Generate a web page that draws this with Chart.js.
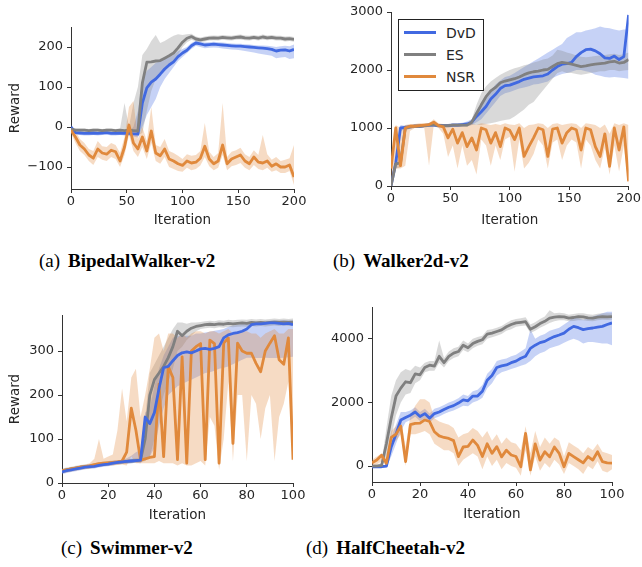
<!DOCTYPE html>
<html>
<head>
<meta charset="utf-8">
<script src="https://cdn.jsdelivr.net/npm/chart.js@4.4.1/dist/chart.umd.min.js"></script>
<style>
  body { margin: 0; background: #fff; }
  #fig { position: relative; width: 642px; height: 567px; overflow: hidden; background: #fff; }
  .panel { position: absolute; }
  .cap { position: absolute; font-family: 'Liberation Serif', 'Times New Roman', serif; font-size: 19px; line-height: 19px; color: #000; white-space: nowrap; }
  .cap b { margin-left: 8px; }
  .legend { position: absolute; border: 1px solid #222; background: #fff; box-sizing: border-box; font-family: 'DejaVu Sans', sans-serif; font-size: 14px; color: #262626; }
  .legend .row { position: absolute; left: 0; height: 18px; }
  .legend .sw { position: absolute; left: 5px; top: 7px; width: 32px; height: 3px; }
  .legend .lb { position: absolute; left: 47px; top: 0; line-height: 18px; }
</style>
</head>
<body>
<div id="fig">
  <canvas id="cA" class="panel" width="320" height="240" style="left:0;top:0"></canvas>
  <canvas id="cB" class="panel" width="322" height="240" style="left:320px;top:0"></canvas>
  <canvas id="cC" class="panel" width="320" height="250" style="left:0;top:280px"></canvas>
  <canvas id="cD" class="panel" width="322" height="250" style="left:320px;top:280px"></canvas>
  <div id="legendB" class="legend" style="left:398px;top:19px;width:86px;height:72px"></div>
  <div class="cap" style="left:39px;top:251px">(a)<b>BipedalWalker-v2</b></div>
  <div class="cap" style="left:333px;top:251px">(b)<b>Walker2d-v2</b></div>
  <div class="cap" style="left:61px;top:538px">(c)<b>Swimmer-v2</b></div>
  <div class="cap" style="left:306px;top:538px">(d)<b>HalfCheetah-v2</b></div>
</div>
<script>
/* ---------- data ---------- */
const SERIES = ['DvD', 'ES', 'NSR'];
const COLORS = ['#4169e1', '#808080', '#e0893c'];

const ITER_AB = [0,4,8,12,16,20,24,28,32,36,40,44,48,52,56,60,64,68,72,76,80,84,88,92,96,100,
  104,108,112,116,120,124,128,132,136,140,144,148,152,156,160,164,168,172,176,180,184,188,192,196,200];
const ITER_CD = [0,2,4,6,8,10,12,14,16,18,20,22,24,26,28,30,32,34,36,38,40,42,44,46,48,50,
  52,54,56,58,60,62,64,66,68,70,72,74,76,78,80,82,84,86,88,90,92,94,96,98,100];

// (a) BipedalWalker
const A_DVD    = [0,-14,-15,-16,-16,-15,-16,-15,-14,-16,-16,-15,-16,-16,-17,-18,60,98,112,120,132,145,155,163,176,185,192,203,210,208,205,206,207,206,205,204,203,202,202,201,200,199,198,197,196,194,190,192,193,190,194];
const A_DVD_LO = [-6,-19,-20,-21,-21,-20,-21,-20,-19,-21,-21,-20,-21,-22,-24,-26,0,30,50,70,100,120,135,150,165,175,185,195,203,200,197,198,199,198,196,195,194,193,192,190,188,186,184,182,180,178,172,174,175,170,172];
const A_DVD_HI = [6,-9,-10,-11,-11,-10,-11,-10,-9,-11,-11,-10,-11,-10,0,40,120,140,150,160,165,170,175,180,190,195,200,210,216,214,211,212,213,212,211,210,209,208,208,207,206,205,204,204,203,202,200,202,203,202,206];
const A_ES     = [-5,-8,-8,-8,-9,-8,-8,-9,-8,-8,-9,-8,-9,-8,-9,-10,110,162,163,165,166,172,178,185,198,212,222,226,220,218,220,222,223,222,224,223,222,224,225,223,222,224,222,225,223,224,222,222,220,221,219];
const A_ES_LO  = [-9,-12,-12,-12,-13,-12,-12,-13,-12,-12,-13,-12,-13,-12,-15,-20,-15,40,90,120,130,140,150,165,180,200,212,218,214,212,214,216,217,216,218,217,216,218,219,217,216,218,216,219,217,218,216,216,214,215,213];
const A_ES_HI  = [-1,-4,-4,-4,-5,-4,-4,-5,-4,-4,-5,-4,60,0,60,100,180,195,215,230,210,215,222,228,232,230,232,233,226,224,226,228,229,228,230,229,228,230,231,229,228,230,228,231,229,230,228,228,226,227,225];
const A_NSR    = [-8,-25,-45,-55,-70,-78,-55,-65,-68,-58,-62,-85,-50,5,-40,-55,-25,-60,-10,-65,-72,-55,-80,-85,-92,-96,-85,-90,-88,-78,-48,-80,-92,-85,-45,-92,-80,-75,-70,-85,-92,-75,-88,-90,-85,-98,-92,-100,-100,-95,-125];
const A_NSR_LO = [-15,-40,-60,-70,-85,-95,-75,-82,-85,-75,-80,-100,-70,-20,-60,-75,-50,-80,-40,-85,-92,-75,-100,-105,-110,-112,-102,-108,-105,-96,-75,-98,-108,-102,-70,-108,-98,-95,-90,-102,-108,-95,-105,-108,-102,-112,-108,-115,-115,-110,-145];
const A_NSR_HI = [0,-10,-30,-40,-55,-60,-35,-48,-50,-40,-45,-65,-25,50,65,-30,0,-35,50,-45,-50,-30,-60,-65,-72,-80,-68,-72,-70,-60,10,-62,-75,-65,60,-75,-62,-58,-52,-68,-75,-58,-70,-20,-68,-82,-75,-85,-82,-78,-45];

// (b) Walker2d
const B_DVD    = [0,400,1000,1010,1020,1030,1030,1040,1050,1050,1040,1040,1040,1050,1050,1060,1070,1100,1200,1280,1370,1500,1580,1680,1730,1740,1770,1800,1840,1860,1880,1890,1900,1930,2000,2060,2100,2110,2130,2230,2300,2350,2360,2330,2280,2210,2200,2240,2180,2230,2950];
const B_DVD_LO = [0,300,950,980,990,1000,1000,1010,1020,1020,1010,1010,1010,1020,1020,1030,1040,1050,1100,1150,1250,1350,1450,1550,1600,1620,1650,1680,1700,1720,1750,1760,1780,1800,1860,1900,1930,1950,1970,2000,2000,1980,1960,1920,1900,1880,1870,1880,1870,1860,1850];
const B_DVD_HI = [0,500,1050,1040,1050,1060,1060,1070,1080,1080,1070,1070,1070,1080,1080,1090,1110,1150,1300,1420,1500,1650,1750,1820,1880,1900,1950,2000,2050,2100,2150,2200,2250,2300,2350,2400,2450,2550,2600,2650,2650,2680,2700,2720,2750,2730,2720,2700,2680,2700,2700];
const B_ES     = [0,380,400,1000,1020,1030,1030,1040,1050,1060,1040,1040,1040,1050,1050,1050,1050,1100,1250,1400,1540,1640,1700,1780,1810,1830,1850,1880,1920,1950,1970,1980,2000,2010,2060,2110,2130,2120,2100,2080,2060,2070,2090,2100,2110,2120,2140,2150,2120,2130,2180];
const B_ES_LO  = [0,300,320,950,990,1000,1000,1010,1020,1030,1010,1010,1010,1020,1020,1020,1020,1050,1050,1050,1070,1080,1100,1120,1140,1150,1200,1260,1320,1400,1450,1550,1650,1750,1850,1950,1980,1950,1950,1930,1920,1930,1950,1960,1980,1980,2000,2000,1980,1990,2000];
const B_ES_HI  = [0,450,500,1050,1050,1060,1060,1070,1080,1090,1070,1070,1070,1080,1080,1080,1080,1150,1400,1600,1720,1800,1860,1920,1960,2000,2030,2050,2080,2100,2130,2150,2180,2200,2250,2350,2330,2300,2280,2250,2230,2220,2230,2240,2250,2260,2270,2280,2260,2270,2300];
const B_NSR    = [300,1000,350,1000,1030,1030,1040,1050,1060,1100,1040,1020,830,980,740,920,680,830,620,1000,970,740,920,680,1000,960,800,1000,510,680,830,1000,970,510,980,1000,740,920,1000,970,620,1000,970,680,510,900,340,1000,620,1020,80];
const B_NSR_LO = [100,300,300,350,950,1000,1000,1000,350,1050,1000,900,500,700,300,700,350,450,200,800,700,350,700,450,800,850,250,800,300,400,550,800,700,300,750,800,450,700,800,750,300,800,700,450,300,650,200,700,250,700,0];
const B_NSR_HI = [400,1050,1000,1050,1070,1070,1080,1080,1080,1150,1080,1070,1050,1070,1050,1060,1050,1070,1050,1080,1070,1050,1070,1050,1080,1060,1050,1080,1000,1050,1060,1080,1070,1000,1070,1080,1050,1070,1080,1070,1000,1080,1070,1050,1000,1060,900,1080,1050,1080,1050];

// (c) Swimmer
const C_DVD    = [25,28,30,32,34,36,37,38,40,42,43,45,47,48,49,50,51,52,150,135,160,215,262,265,278,290,296,298,296,300,305,306,304,306,310,330,337,340,342,345,350,360,362,362,363,364,364,363,362,363,360];
const C_DVD_LO = [20,23,25,27,29,31,32,33,35,37,38,40,42,43,44,45,46,45,55,60,80,130,170,200,210,220,225,230,235,240,245,250,252,255,260,262,265,270,275,280,285,285,284,284,285,284,284,284,285,286,287];
const C_DVD_HI = [30,33,35,37,39,41,42,43,45,47,48,50,52,53,56,62,70,75,160,170,220,260,290,310,330,335,335,335,335,340,340,342,344,346,348,350,355,358,360,362,365,367,368,368,369,369,370,370,370,370,370];
const C_ES     = [28,30,32,34,36,37,38,40,42,44,45,46,47,48,49,50,51,52,100,200,235,250,265,285,310,345,335,345,352,356,358,360,361,360,362,361,363,362,363,364,363,365,364,365,364,365,366,365,366,365,366];
const C_ES_LO  = [23,25,27,29,31,32,33,35,37,39,40,41,42,43,44,45,46,47,50,60,100,160,200,230,260,300,310,325,335,345,350,352,353,352,354,353,355,354,355,356,355,357,356,357,356,357,358,357,358,357,358];
const C_ES_HI  = [33,35,37,39,41,42,43,45,47,49,50,51,52,53,54,55,56,57,150,250,270,290,310,330,350,365,365,362,365,365,366,368,369,368,370,369,371,370,371,372,371,373,372,373,372,373,374,373,374,373,374];
const C_NSR    = [28,30,32,34,36,37,39,42,44,45,46,47,48,50,70,170,120,52,55,58,60,225,60,265,240,53,287,45,300,310,317,53,325,317,45,318,330,90,318,300,295,295,272,253,300,318,335,280,270,330,53];
const C_NSR_LO = [22,24,26,28,30,31,33,35,37,38,39,40,41,42,40,60,45,45,45,45,45,50,45,45,45,40,45,40,40,45,50,40,150,130,30,100,230,50,200,200,50,200,180,100,170,200,50,150,180,230,50];
const C_NSR_HI = [30,33,36,38,40,42,45,55,100,55,60,65,120,215,140,240,260,150,200,260,330,340,300,340,340,330,340,330,340,345,345,340,345,345,340,345,350,340,345,345,345,340,340,330,340,345,350,340,340,350,350];

// (d) HalfCheetah
const D_DVD    = [-20,-20,-20,0,600,1000,1450,1530,1600,1700,1560,1650,1500,1650,1700,1780,1850,1900,1980,2080,2050,2200,2200,2350,2700,2850,3100,3150,3180,3250,3300,3390,3450,3700,3800,3880,3920,4000,4070,4120,4180,4300,4390,4350,4290,4320,4340,4370,4390,4450,4500];
const D_DVD_LO = [-60,-60,-60,-40,300,700,1100,1380,1450,1550,1420,1500,1370,1500,1560,1640,1700,1750,1820,1900,1880,2000,2050,2150,2450,2600,2850,2950,3000,3050,3100,3150,3200,3300,3450,3550,3600,3700,3750,3800,3880,3950,4000,3950,3850,3900,3900,3880,3850,3850,3800];
const D_DVD_HI = [20,20,20,40,900,1300,1700,1700,1750,1850,1700,1800,1650,1800,1850,1920,2000,2050,2130,2250,2200,2350,2400,2550,2900,3050,3300,3350,3380,3450,3500,3600,3700,4300,4000,4100,4150,4250,4300,4350,4450,4550,4700,4650,4600,4650,4700,4750,4800,4850,4850];
const D_ES     = [0,0,20,700,1500,2200,2450,2650,2620,2900,2870,3100,3170,3140,3450,3250,3450,3550,3600,3800,3720,3850,3920,3970,4150,4180,4230,4280,4380,4450,4500,4520,4540,4300,4380,4480,4550,4650,4680,4700,4690,4650,4670,4700,4690,4660,4650,4680,4700,4690,4700];
const D_ES_LO  = [-50,-50,-30,300,900,1600,2000,2250,2300,2600,2700,2950,3000,3000,3250,3100,3300,3400,3450,3650,3580,3700,3780,3830,4000,4050,4100,4150,4250,4300,4380,4400,4420,4180,4250,4350,4420,4500,4550,4580,4580,4550,4560,4580,4580,4560,4550,4580,4600,4590,4600];
const D_ES_HI  = [50,50,100,1200,2200,2700,2950,3050,3000,3150,3100,3250,3300,3300,3950,3400,3600,3700,3750,3950,3850,4000,4060,4100,4280,4300,4350,4400,4500,4580,4620,4650,4680,4450,4520,4620,4700,4900,4800,4820,4800,4760,4780,4800,4800,4770,4760,4790,4800,4800,4800];
const D_NSR    = [100,190,340,90,900,1000,1250,140,1300,1340,1350,1450,1400,1080,950,900,870,800,300,600,620,820,650,300,700,400,610,290,500,350,300,-20,1030,-120,700,190,450,290,600,400,-20,400,300,200,100,300,190,450,140,100,90];
const D_NSR_LO = [0,50,150,0,700,800,1000,0,1000,1000,1050,1100,1000,700,600,500,500,400,0,200,300,400,300,-100,300,0,200,-100,100,0,-50,-300,500,-300,300,-150,100,-50,200,50,-250,100,0,-100,-250,0,-100,150,-150,-200,-100];
const D_NSR_HI = [200,300,400,200,1100,1250,1500,600,1600,1900,2100,2100,2000,1500,1400,1350,1300,1200,900,1000,1050,1200,1100,900,1100,800,1000,700,900,750,700,500,1250,400,1100,600,900,700,900,800,300,750,650,550,400,600,500,700,450,400,350];

// tick labels
const X_TICKS_AB = [0, 50, 100, 150, 200];
const X_TICKS_CD = [0, 20, 40, 60, 80, 100];
const Y_TICKS_A = [-100, 0, 100, 200];
const Y_TICKS_B = [0, 1000, 2000, 3000];
const Y_TICKS_C = [0, 100, 200, 300];
const Y_TICKS_D = [0, 2000, 4000];

/* ---------- helpers ---------- */
function hexToRgba(hex, alpha) {
  const r = parseInt(hex.slice(1, 3), 16);
  const g = parseInt(hex.slice(3, 5), 16);
  const b = parseInt(hex.slice(5, 7), 16);
  return `rgba(${r}, ${g}, ${b}, ${alpha})`;
}

const pts = (xs, ys) => xs.map((x, i) => ({ x: x, y: ys[i] }));
const fmt = v => (v < 0 ? '\u2212' + Math.abs(v) : String(v));

const TXT = '#262626';
const AXIS = '#333333';

function makePanel(canvasId, p) {
  const datasets = [];
  p.series.forEach((s, i) => {
    const bandOrder = 30 - i;
    datasets.push({
      data: pts(p.iter, s.lo), borderWidth: 0, pointRadius: 0, fill: false, order: bandOrder
    });
    datasets.push({
      data: pts(p.iter, s.hi), borderWidth: 0, pointRadius: 0, fill: '-1',
      backgroundColor: hexToRgba(COLORS[i], 0.3), order: bandOrder
    });
  });
  p.series.forEach((s, i) => {
    datasets.push({
      label: SERIES[i], data: pts(p.iter, s.mean), borderColor: COLORS[i],
      borderWidth: 2.8, pointRadius: 0, fill: false, tension: 0,
      borderJoinStyle: 'round', order: 10 - p.z[i]
    });
  });

  const g = p.geo;
  return new Chart(document.getElementById(canvasId), {
    type: 'line',
    data: { datasets },
    options: {
      responsive: false,
      animation: false,
      devicePixelRatio: 1,
      parsing: false,
      layout: { padding: { left: 0, top: g.top, right: g.right, bottom: g.bottom } },
      plugins: { legend: { display: false }, tooltip: { enabled: false } },
      scales: {
        x: {
          type: 'linear', min: p.xMin, max: p.xMax,
          afterBuildTicks: sc => { sc.ticks = p.xTicks.map(v => ({ value: v })); },
          afterFit: sc => { sc.height = g.xh; },
          grid: { display: true, drawOnChartArea: false, drawTicks: true, tickLength: 4, color: AXIS },
          border: { display: true, color: AXIS, width: 1 },
          ticks: { color: TXT, padding: 1, maxRotation: 0, font: { family: 'DejaVu Sans', size: 13 }, callback: fmt },
          title: { display: true, text: 'Iteration', color: TXT, padding: { top: 0, bottom: 0 },
                   font: { family: 'DejaVu Sans', size: 13.5 } }
        },
        y: {
          type: 'linear', min: p.yMin, max: p.yMax,
          afterBuildTicks: sc => { sc.ticks = p.yTicks.map(v => ({ value: v })); },
          afterFit: sc => { sc.width = g.yw; },
          grid: { display: true, drawOnChartArea: false, drawTicks: true, tickLength: 4, color: AXIS },
          border: { display: true, color: AXIS, width: 1 },
          ticks: { color: TXT, padding: 4, font: { family: 'DejaVu Sans', size: 13 }, callback: fmt },
          title: { display: !!p.yTitle, text: p.yTitle || '', color: TXT, padding: { top: 7, bottom: 0 },
                   font: { family: 'DejaVu Sans', size: 13.5 } }
        }
      }
    }
  });
}

/* ---------- panels ---------- */
makePanel('cA', {
  iter: ITER_AB, xMin: 0, xMax: 200, yMin: -155, yMax: 250,
  xTicks: X_TICKS_AB, yTicks: Y_TICKS_A, yTitle: 'Reward', z: [0, 1, 2],
  geo: { yw: 71, top: 27, right: 26, bottom: 11.4, xh: 39.6 },
  series: [
    { mean: A_DVD, lo: A_DVD_LO, hi: A_DVD_HI },
    { mean: A_ES, lo: A_ES_LO, hi: A_ES_HI },
    { mean: A_NSR, lo: A_NSR_LO, hi: A_NSR_HI }
  ]
});

makePanel('cB', {
  iter: ITER_AB, xMin: 0, xMax: 200, yMin: 0, yMax: 3000,
  xTicks: X_TICKS_AB, yTicks: Y_TICKS_B, z: [0, 1, 2],
  geo: { yw: 71, top: 12, right: 13, bottom: 11.4, xh: 42.6 },
  series: [
    { mean: B_DVD, lo: B_DVD_LO, hi: B_DVD_HI },
    { mean: B_ES, lo: B_ES_LO, hi: B_ES_HI },
    { mean: B_NSR, lo: B_NSR_LO, hi: B_NSR_HI }
  ]
});

makePanel('cC', {
  iter: ITER_CD, xMin: 0, xMax: 100, yMin: 0, yMax: 382,
  xTicks: X_TICKS_CD, yTicks: Y_TICKS_C, yTitle: 'Reward', z: [2, 0, 1],
  geo: { yw: 62, top: 35, right: 27, bottom: 6.2, xh: 40.8 },
  series: [
    { mean: C_DVD, lo: C_DVD_LO, hi: C_DVD_HI },
    { mean: C_ES, lo: C_ES_LO, hi: C_ES_HI },
    { mean: C_NSR, lo: C_NSR_LO, hi: C_NSR_HI }
  ]
});

makePanel('cD', {
  iter: ITER_CD, xMin: 0, xMax: 100, yMin: -500, yMax: 5000,
  xTicks: X_TICKS_CD, yTicks: Y_TICKS_D, z: [0, 1, 2],
  geo: { yw: 52, top: 27, right: 30, bottom: 7.4, xh: 40.6 },
  series: [
    { mean: D_DVD, lo: D_DVD_LO, hi: D_DVD_HI },
    { mean: D_ES, lo: D_ES_LO, hi: D_ES_HI },
    { mean: D_NSR, lo: D_NSR_LO, hi: D_NSR_HI }
  ]
});

/* ---------- legend inside panel (b) ---------- */
const legend = document.getElementById('legendB');
SERIES.forEach((name, i) => {
  const row = document.createElement('div');
  row.className = 'row';
  row.style.top = (4 + i * 22) + 'px';
  row.innerHTML = `<span class="sw" style="background:${COLORS[i]}"></span><span class="lb">${name}</span>`;
  legend.appendChild(row);
});
</script>
</body>
</html>
